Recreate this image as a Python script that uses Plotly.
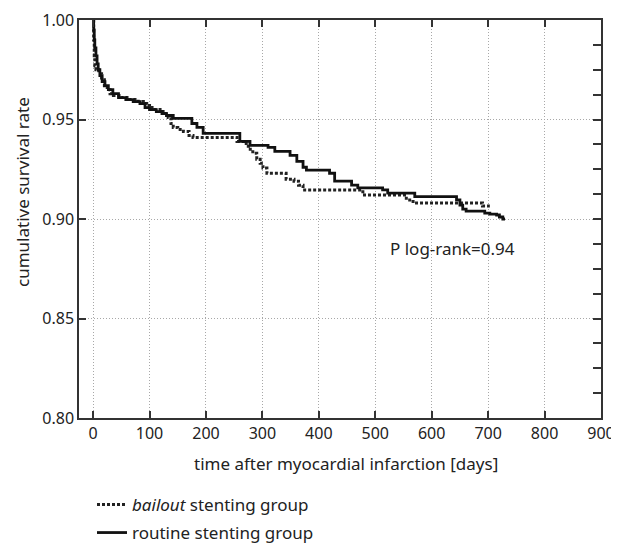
import plotly.graph_objects as go

# Kaplan-Meier step data (days, cumulative survival)
routine_t = [0, 1, 2, 3, 5, 7, 9, 12, 16, 21, 27, 35, 45, 58, 71, 83, 92, 100, 112, 122, 130, 142,
             175, 184, 195, 260, 278, 310, 322, 349, 361, 372, 378, 419, 428, 458, 469, 513, 522,
             570, 644, 650, 655, 661, 694, 703, 715, 720, 726, 730]
routine_s = [1.000, 0.995, 0.990, 0.986, 0.982, 0.978, 0.975, 0.972, 0.969, 0.967, 0.965, 0.963,
             0.961, 0.960, 0.959, 0.958, 0.956, 0.955, 0.954, 0.953, 0.952, 0.9506,
             0.948, 0.946, 0.943, 0.939, 0.937, 0.936, 0.934, 0.932, 0.929, 0.926, 0.9246,
             0.923, 0.919, 0.917, 0.9156, 0.9146, 0.913,
             0.9112, 0.9096, 0.907, 0.905, 0.904, 0.903, 0.9025, 0.902, 0.901, 0.900, 0.900]

bailout_t = [0, 1, 2, 3, 5, 10, 15, 20, 25, 30, 36, 50, 65, 80, 89, 95, 100, 110, 124, 133, 138,
             142, 150, 160, 170, 177, 255, 266, 275, 283, 290, 296, 301, 308, 342, 356, 364, 372,
             478, 555, 567, 690, 703]
bailout_s = [1.000, 0.990, 0.982, 0.977, 0.975, 0.973, 0.970, 0.967, 0.965, 0.963, 0.962, 0.961,
             0.960, 0.959, 0.958, 0.957, 0.956, 0.955, 0.953, 0.951, 0.948,
             0.946, 0.945, 0.944, 0.942, 0.941, 0.939, 0.938, 0.935, 0.933, 0.930, 0.928,
             0.9256, 0.923, 0.920, 0.919, 0.917, 0.9146,
             0.912, 0.9096, 0.908, 0.9065, 0.9065]

x_ticks = [0, 100, 200, 300, 400, 500, 600, 700, 800, 900]
y_ticks = [0.80, 0.85, 0.90, 0.95, 1.00]

FONT = "Noto Sans"
FS = 17      # titles, legend, annotation
TFS = 16     # tick labels
TXT = "#222222"
AX = "#333333"

# the page body adds an 8px margin, so the figure is drawn 8px in from the window corner
OFF = 8
FW, FH = 619 - OFF, 544 - OFF

fig = go.Figure()
fig.add_trace(go.Scatter(
    x=bailout_t, y=bailout_s, mode="lines", line_shape="hv",
    line=dict(color="#222222", width=3, dash="3px,2px"),
    name="<i>bailout</i> stenting group", legend="legend"))
fig.add_trace(go.Scatter(
    x=routine_t, y=routine_s, mode="lines", line_shape="hv",
    line=dict(color="#111111", width=2.8),
    name="routine stenting group", legend="legend2"))
# carrier for right-side minor tick axis
fig.add_trace(go.Scatter(x=[None], y=[None], yaxis="y2", showlegend=False, hoverinfo="skip"))


def cx(px):
    return (px - OFF) / FW


def cy(py):
    return 1 - (py - OFF) / FH


fig.update_layout(
    width=FW, height=FH,
    margin=dict(l=79 - OFF, r=18, t=20 - OFF, b=126, autoexpand=False),
    paper_bgcolor="white", plot_bgcolor="white",
    font=dict(family=FONT, size=FS, color=TXT),
    xaxis=dict(range=[-25, 900], tickvals=x_ticks, ticktext=[str(v) for v in x_ticks],
               ticks="inside", ticklen=7, tickwidth=1.5, tickcolor=AX,
               showline=True, linecolor=AX, linewidth=1.5, mirror="ticks",
               showgrid=True, gridcolor="#a8a8a8", gridwidth=1, griddash="1px,2px",
               zeroline=False, tickfont=dict(size=TFS, color=TXT)),
    yaxis=dict(range=[0.8, 1.0], tickvals=y_ticks, ticktext=["%.2f" % v for v in y_ticks],
               ticks="inside", ticklen=7, tickwidth=1.5, tickcolor=AX,
               showline=True, linecolor=AX, linewidth=1.5, mirror=True,
               showgrid=True, gridcolor="#a8a8a8", gridwidth=1, griddash="1px,2px",
               zeroline=False, tickfont=dict(size=TFS, color=TXT)),
    yaxis2=dict(range=[0.8, 1.0], overlaying="y", side="right", dtick=0.0125, tick0=0.8,
                ticks="inside", ticklen=8, tickwidth=1.5, tickcolor=AX,
                showticklabels=False, showgrid=False, zeroline=False, showline=False),
    legend=dict(xref="container", yref="container", x=cx(92), y=cy(505),
                xanchor="left", yanchor="middle", bgcolor="rgba(0,0,0,0)",
                font=dict(family=FONT, size=FS, color=TXT), itemwidth=30),
    legend2=dict(xref="container", yref="container", x=cx(92), y=cy(533),
                 xanchor="left", yanchor="middle", bgcolor="rgba(0,0,0,0)",
                 font=dict(family=FONT, size=FS, color=TXT), itemwidth=30),
    showlegend=True,
)

PW, PH = 522, 398  # plot area size in px (window x 79..601, y 20..418)


def px_x(px):
    return (px - 79) / PW


def px_y(py):
    return 1 - (py - 20) / PH


fig.add_annotation(text="P log-rank=0.94", x=636, y=0.885, xref="x", yref="y",
                   xanchor="center", yanchor="middle", showarrow=False,
                   font=dict(family=FONT, size=FS, color=TXT))
fig.add_annotation(text="time after myocardial infarction [days]", x=px_x(346), y=px_y(463),
                   xref="paper", yref="paper", xanchor="center", yanchor="middle",
                   showarrow=False, font=dict(family=FONT, size=FS, color=TXT))
fig.add_annotation(text="cumulative survival rate", x=px_x(22), y=px_y(192),
                   xref="paper", yref="paper", xanchor="center", yanchor="middle",
                   showarrow=False, textangle=-90,
                   font=dict(family=FONT, size=FS, color=TXT))

fig.write_html("out.html")
